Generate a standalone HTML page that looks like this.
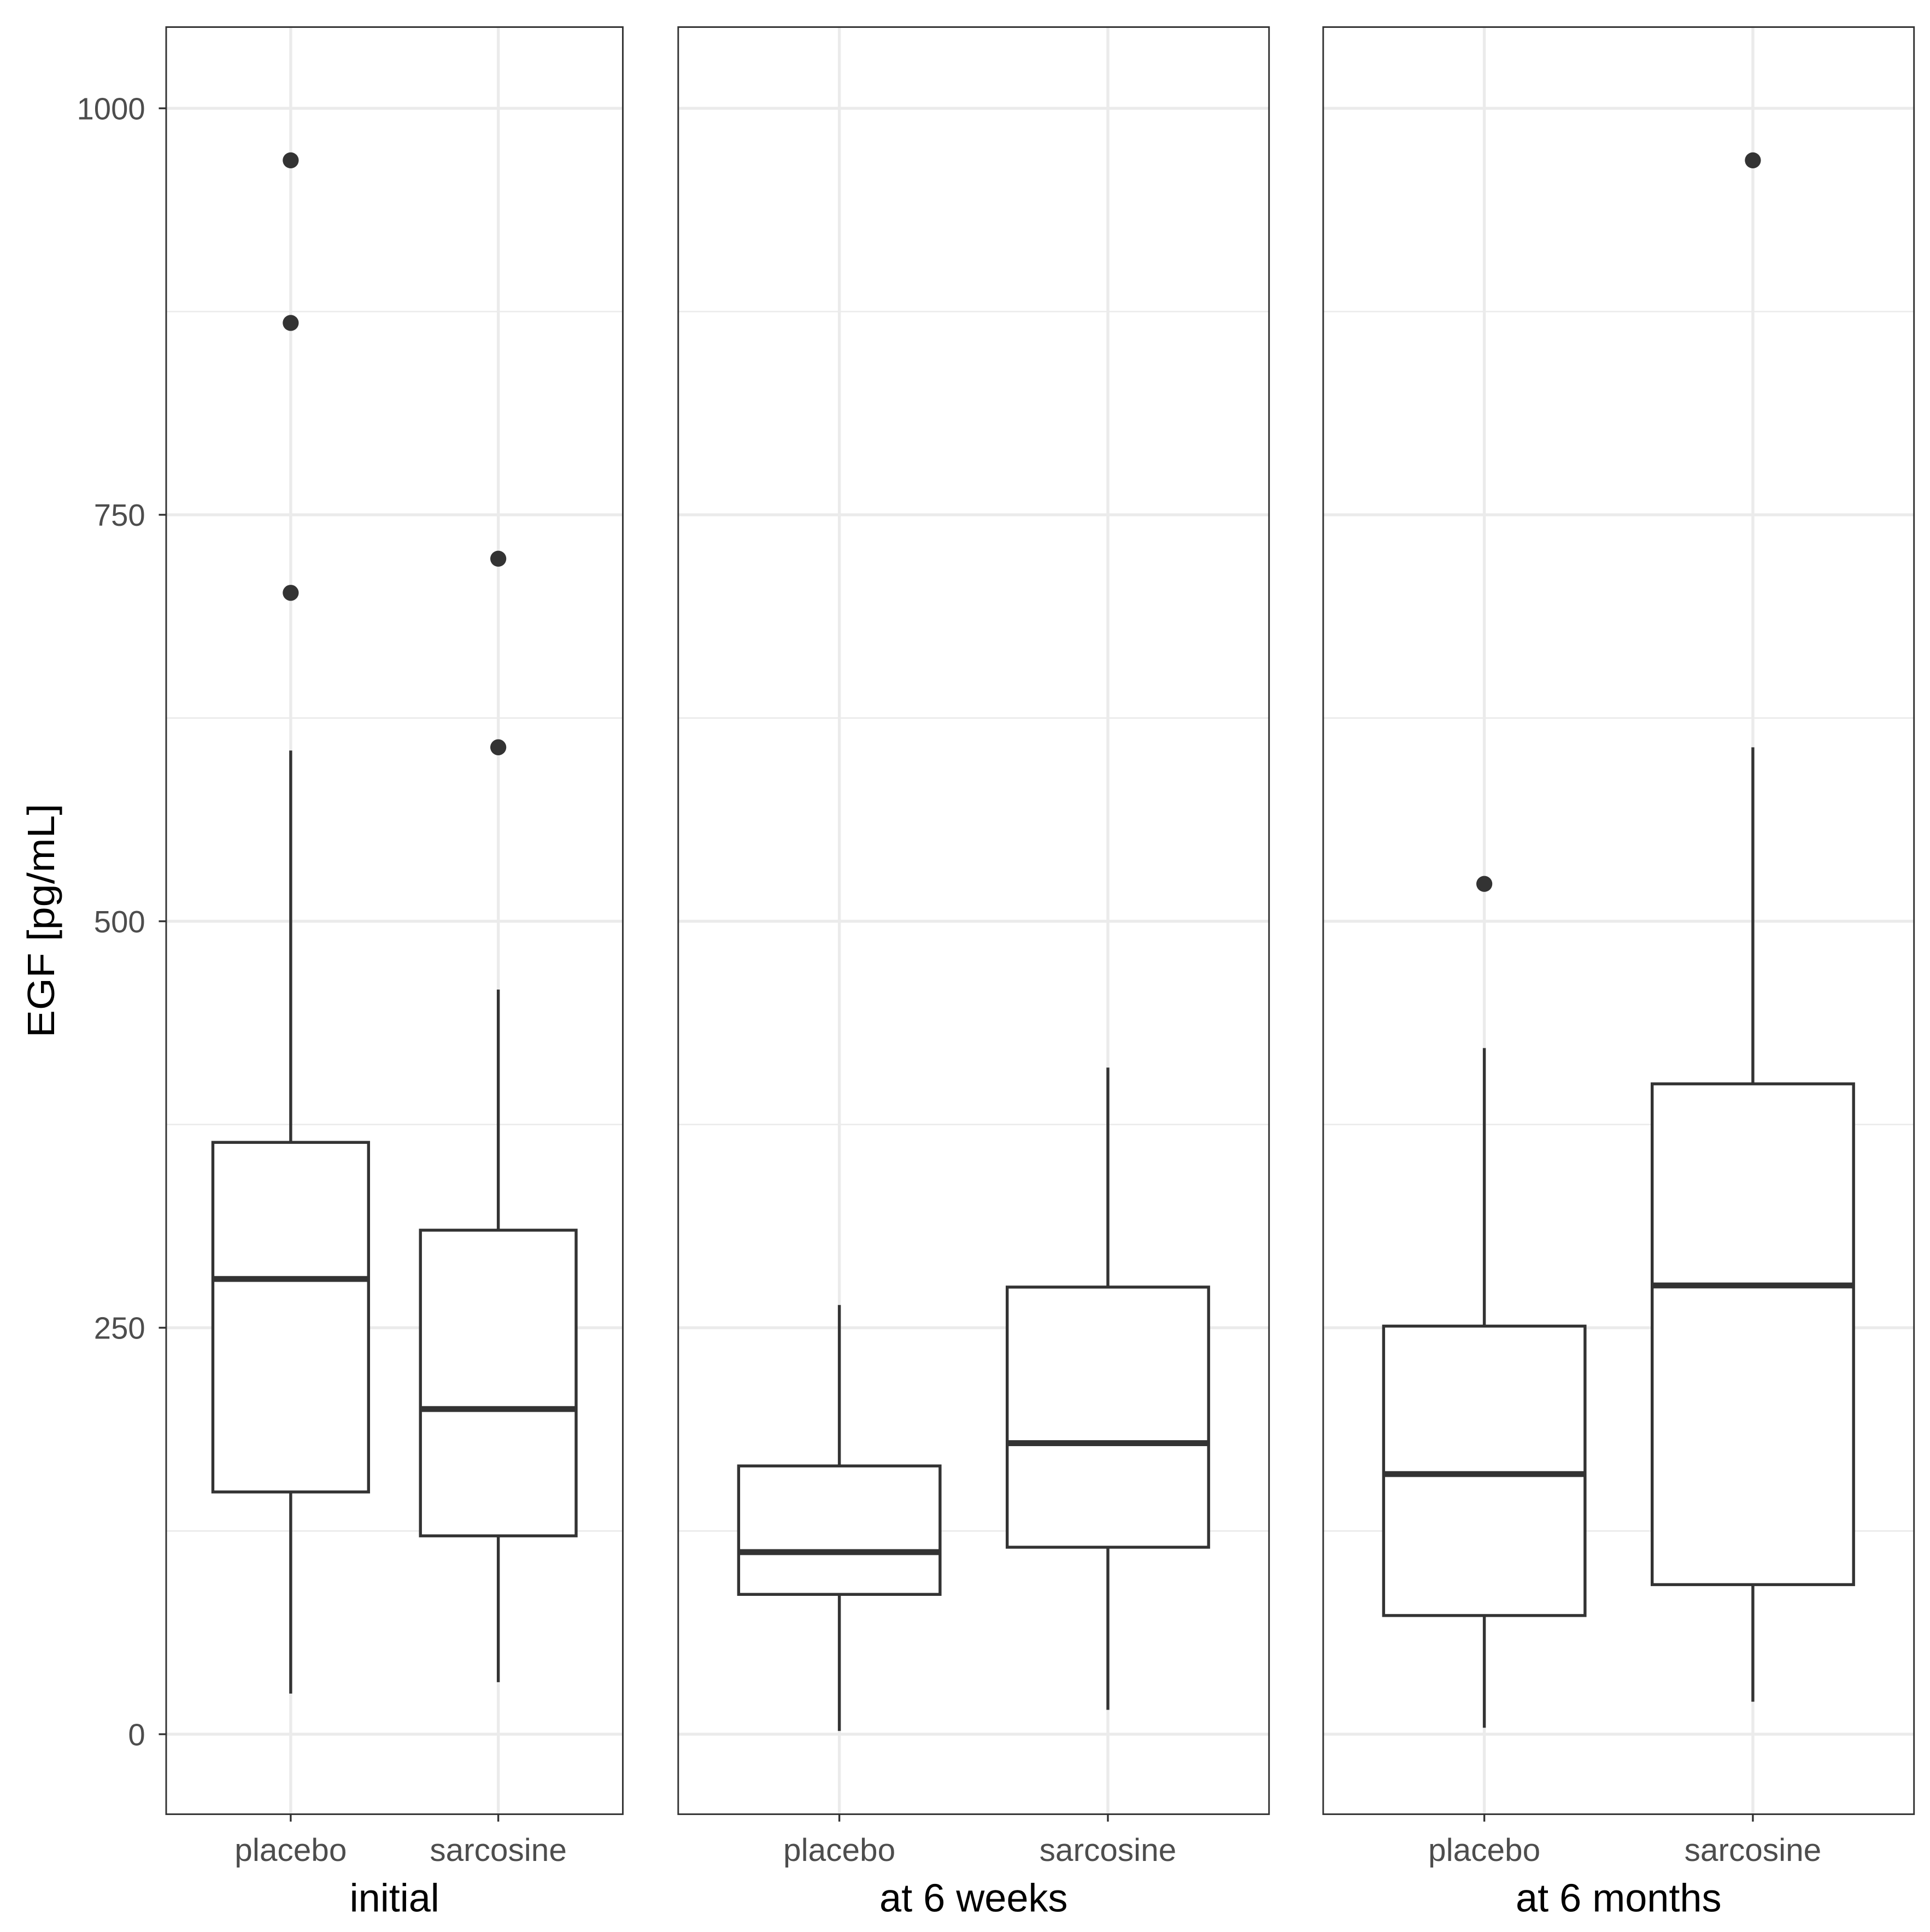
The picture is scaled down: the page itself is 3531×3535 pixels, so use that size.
<!DOCTYPE html>
<html><head><meta charset="utf-8"><style>
html,body{margin:0;padding:0;background:#fff}
svg{display:block}
text{font-family:"Liberation Sans",Arial,sans-serif}
</style></head><body>
<svg id="chart" width="3531" height="3535" viewBox="0 0 1568 1569.7" preserveAspectRatio="none" xmlns="http://www.w3.org/2000/svg">
<text x="0" y="0" transform="translate(44,748) rotate(-90)" text-anchor="middle" font-size="31" textLength="190" lengthAdjust="spacingAndGlyphs" fill="#000">EGF [pg/mL]</text>
<g id="plot"></g>
</svg>
<script>
const panels = ["initial", "at 6 weeks", "at 6 months"];
const groups = ["placebo", "sarcosine"];
const yTicks = [0, 250, 500, 750, 1000];
const yMinor = [125, 375, 625, 875];
// [panel][group] = [lowerWhisker, q1, median, q3, upperWhisker]
const stats = [
  [[25, 149, 280, 364, 605], [32, 122, 200, 310, 458]],
  [[2, 86, 112, 165, 264], [15, 115, 179, 275, 410]],
  [[4, 73, 160, 251, 422], [20, 92, 276, 400, 607]]
];
const outliers = [
  [[968, 868, 702], [723, 607]],
  [[], []],
  [[523], [968]]
];

const NS = "http://www.w3.org/2000/svg";
const plotGroup = document.getElementById("plot");
const panelX = [[135, 506], [551, 1031], [1075, 1555]];
const plotTop = 22, plotBottom = 1474;
const yScale = v => 1409 - v * 1.321;
function mk(tag, attrs, parent) {
  const e = document.createElementNS(NS, tag);
  for (const k in attrs) e.setAttribute(k, attrs[k]);
  (parent || plotGroup).appendChild(e);
  return e;
}
function xScale(p, c) {
  const [a, b] = panelX[p];
  return a + (c + 1 - 0.4) / 2.2 * (b - a);
}
yTicks.forEach(t => {
  const y = yScale(t);
  const tl = mk("text", {x: 118, y: y + 9, "text-anchor": "end", "font-size": 25, fill: "#4d4d4d"});
  
  
  tl.textContent = t;
  const tk = mk("line", {x1: 129, x2: 135, y1: y, y2: y, stroke: "#333", "stroke-width": 1.5});
  
  
});
panels.forEach((pn, p) => {
  const [a, b] = panelX[p];
  const pg = mk("g", {});
  
  
  yMinor.forEach(t => {
    const l = mk("line", {x1: a, x2: b, y1: yScale(t), y2: yScale(t), stroke: "#ebebeb", "stroke-width": 1.2}, pg);
    
    
  });
  yTicks.forEach(t => {
    const l = mk("line", {x1: a, x2: b, y1: yScale(t), y2: yScale(t), stroke: "#ebebeb", "stroke-width": 2.4}, pg);
    
    
  });
  groups.forEach((gn, c) => {
    const x = xScale(p, c);
    const l = mk("line", {x1: x, x2: x, y1: plotTop, y2: plotBottom, stroke: "#ebebeb", "stroke-width": 2.4}, pg);
    
    
  });
  groups.forEach((gn, c) => {
    const x = xScale(p, c);
    const hw = 0.375 / 2.2 * (b - a);
    const s = stats[p][c];
    const bg = mk("g", {}, pg);
    
    
    mk("line", {x1: x, x2: x, y1: yScale(s[0]), y2: yScale(s[1]), stroke: "#333", "stroke-width": 2.4}, bg);
    mk("line", {x1: x, x2: x, y1: yScale(s[3]), y2: yScale(s[4]), stroke: "#333", "stroke-width": 2.4}, bg);
    mk("rect", {x: x - hw, y: yScale(s[3]), width: 2 * hw, height: yScale(s[1]) - yScale(s[3]), fill: "#fff", stroke: "#333", "stroke-width": 2.4}, bg);
    mk("line", {x1: x - hw, x2: x + hw, y1: yScale(s[2]), y2: yScale(s[2]), stroke: "#333", "stroke-width": 4.8}, bg);
    outliers[p][c].forEach(v => {
      const o = mk("circle", {cx: x, cy: yScale(v), r: 6.5, fill: "#333"}, bg);
      
      
    });
    const tk = mk("line", {x1: x, x2: x, y1: plotBottom, y2: plotBottom + 6, stroke: "#333", "stroke-width": 1.5}, pg);
    
    
    const tl = mk("text", {x: x, y: 1512, "text-anchor": "middle", "font-size": 26, fill: "#4d4d4d"}, pg);
    
    
    tl.textContent = gn;
  });
  const br = mk("rect", {x: a, y: plotTop, width: b - a, height: plotBottom - plotTop, fill: "none", stroke: "#333", "stroke-width": 1.3}, pg);
  
  
  const ft = mk("text", {x: (a + b) / 2, y: 1553, "text-anchor": "middle", "font-size": 32, fill: "#000"}, pg);
  
  
  ft.textContent = pn;
});
</script>
</body></html>
